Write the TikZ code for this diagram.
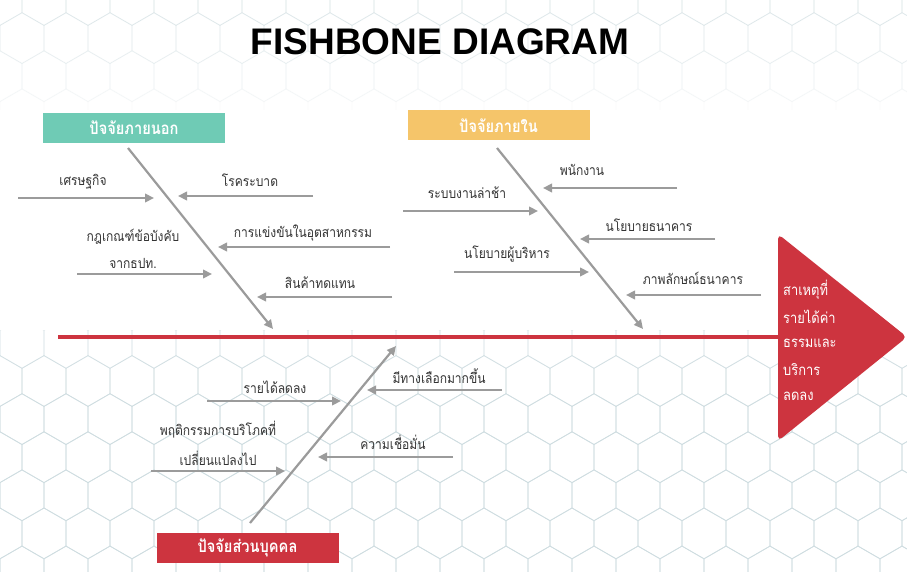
\documentclass[tikz,border=0pt]{standalone}
\usepackage{fontspec}
\setmainfont{Liberation Sans}
\newfontfamily\thai[Script=Thai,FakeStretch=0.86]{Loma}
\usetikzlibrary{arrows.meta}
\definecolor{tealbox}{HTML}{6FCBB5}
\definecolor{yellowbox}{HTML}{F5C56A}
\definecolor{redbox}{HTML}{CD343F}
\definecolor{bonegray}{HTML}{9B9B9B}
\definecolor{hexcol}{HTML}{CFDDE1}
\begin{document}
\begin{tikzpicture}[x=1pt,y=-1pt,
  lbl/.style={font=\thai\fontsize{14}{15}\selectfont, text=black!80, inner sep=0},
  headtxt/.style={font=\thai\fontsize{15}{16}\selectfont, text=white, inner sep=0, anchor=west},
  bone/.style={draw=bonegray, line width=2.2pt, -{Triangle[length=9pt,width=8.5pt]}},
  cat/.style={minimum width=182pt, minimum height=30pt, inner sep=0, font=\thai\bfseries\fontsize{17}{18}\selectfont, text=white},
  hexline/.style={draw=hexcol, line width=0.7pt}
]
\useasboundingbox (0,0) rectangle (907,572);
\fill[white] (0,0) rectangle (907,572);
% background hex grid
\begin{scope}
\clip (0,330) rectangle (907,572);
\foreach \j in {8,...,15}{
 \pgfmathsetmacro\op{min(1,0.25+(\j-8)*0.3)}
 \foreach \i in {-1,...,21}{
  \pgfmathsetmacro\cx{\i*44+mod(\j,2)*22}
  \pgfmathsetmacro\cy{\j*38.1}
  \draw[hexline, draw opacity=\op] (\cx,\cy) +(30:25.4) -- +(90:25.4) -- +(150:25.4) -- +(210:25.4) -- +(270:25.4) -- +(330:25.4) -- cycle;
 }}
\end{scope}
\begin{scope}
\clip (0,0) rectangle (907,110);
\foreach \j in {0,...,3}{
 \pgfmathsetmacro\op{max(0.05,0.5-\j*0.15)}
 \foreach \i in {-1,...,21}{
  \pgfmathsetmacro\cx{\i*44+mod(\j,2)*22}
  \pgfmathsetmacro\cy{\j*38.1}
  \draw[hexline, draw opacity=\op] (\cx,\cy) +(30:25.4) -- +(90:25.4) -- +(150:25.4) -- +(210:25.4) -- +(270:25.4) -- +(330:25.4) -- cycle;
 }}
\end{scope}
% title
\node[font=\bfseries\fontsize{37}{40}\selectfont, inner sep=0] (title) at (440,42) {FISHBONE DIAGRAM};
% main spine and head
\coordinate (spineL) at (58,337);
\coordinate (spineR) at (782,337);
\draw[redbox, line width=4pt] (spineL) -- (spineR);
\fill[redbox, rounded corners=5pt] (778,234) -- (907,337) -- (778,441) -- cycle;
\node[headtxt] (h1) at (783,290) {สาเหตุที่};
\node[headtxt] (h2) at (783,317) {รายได้ค่า};
\node[headtxt] (h3) at (783,343) {ธรรมและ};
\node[headtxt] (h4) at (783,370) {บริการ};
\node[headtxt] (h5) at (783,396) {ลดลง};
% category boxes
\node[cat, fill=tealbox] (ext) at (134,128) {ปัจจัยภายนอก};
\node[cat, fill=yellowbox] (int) at (498.5,125.5) {ปัจจัยภายใน};
\node[cat, fill=redbox] (per) at (247.5,548) {ปัจจัยส่วนบุคคล};
% ---- external bone
\coordinate (b1s) at (128,148);
\coordinate (b1e) at (273,329);
\draw[bone] (b1s) -- (b1e);
\node[lbl] (l11) at (83,182) {เศรษฐกิจ};
\coordinate (a11s) at (18,198); \coordinate (a11e) at (154,198);
\draw[bone] (a11s) -- (a11e);
\node[lbl] (l12) at (250,180) {โรคระบาด};
\coordinate (a12s) at (313,196); \coordinate (a12e) at (178,196);
\draw[bone] (a12s) -- (a12e);
\node[lbl] (l13) at (133,237) {กฎเกณฑ์ข้อบังคับ};
\node[lbl] (l13b) at (133,263) {จากธปท.};
\coordinate (a13s) at (77,274); \coordinate (a13e) at (212,274);
\draw[bone] (a13s) -- (a13e);
\node[lbl] (l14) at (303,233) {การแข่งขันในอุตสาหกรรม};
\coordinate (a14s) at (390,247); \coordinate (a14e) at (218,247);
\draw[bone] (a14s) -- (a14e);
\node[lbl] (l15) at (320,283) {สินค้าทดแทน};
\coordinate (a15s) at (392,297); \coordinate (a15e) at (257,297);
\draw[bone] (a15s) -- (a15e);
% ---- internal bone
\coordinate (b2s) at (497,148);
\coordinate (b2e) at (643,329);
\draw[bone] (b2s) -- (b2e);
\node[lbl] (l21) at (582,170) {พนักงาน};
\coordinate (a21s) at (677,188); \coordinate (a21e) at (543,188);
\draw[bone] (a21s) -- (a21e);
\node[lbl] (l22) at (467,193) {ระบบงานล่าช้า};
\coordinate (a22s) at (403,211); \coordinate (a22e) at (538,211);
\draw[bone] (a22s) -- (a22e);
\node[lbl] (l23) at (649,225) {นโยบายธนาคาร};
\coordinate (a23s) at (715,239); \coordinate (a23e) at (580,239);
\draw[bone] (a23s) -- (a23e);
\node[lbl] (l24) at (507,254) {นโยบายผู้บริหาร};
\coordinate (a24s) at (454,272); \coordinate (a24e) at (589,272);
\draw[bone] (a24s) -- (a24e);
\node[lbl] (l25) at (693,278) {ภาพลักษณ์ธนาคาร};
\coordinate (a25s) at (761,295); \coordinate (a25e) at (626,295);
\draw[bone] (a25s) -- (a25e);
% ---- personal bone
\coordinate (b3s) at (250,523);
\coordinate (b3e) at (396,346);
\draw[bone] (b3s) -- (b3e);
\node[lbl] (l31) at (275,387) {รายได้ลดลง};
\coordinate (a31s) at (207,401); \coordinate (a31e) at (341,401);
\draw[bone] (a31s) -- (a31e);
\node[lbl] (l32) at (439,376) {มีทางเลือกมากขึ้น};
\coordinate (a32s) at (502,390); \coordinate (a32e) at (367,390);
\draw[bone] (a32s) -- (a32e);
\node[lbl] (l33) at (218,430) {พฤติกรรมการบริโภคที่};
\node[lbl] (l33b) at (218,458) {เปลี่ยนแปลงไป};
\coordinate (a33s) at (151,471); \coordinate (a33e) at (285,471);
\draw[bone] (a33s) -- (a33e);
\node[lbl] (l34) at (393,442) {ความเชื่อมั่น};
\coordinate (a34s) at (453,457); \coordinate (a34e) at (318,457);
\draw[bone] (a34s) -- (a34e);
\end{tikzpicture}
\end{document}
